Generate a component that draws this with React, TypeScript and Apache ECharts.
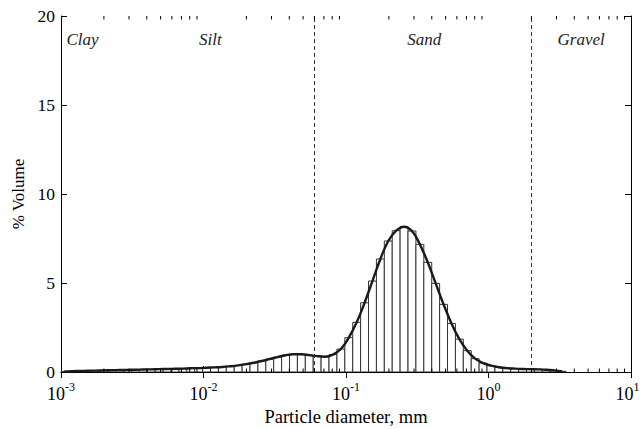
import React, { useEffect, useRef } from "react";
import * as echarts from "echarts";

// Particle-size classes (Mastersizer-style log classes, 0.01 µm – 3500 µm, 100 classes)
const CLASS_LOW_MM = 1e-5;
const CLASS_HIGH_MM = 3.5;
const CLASS_COUNT = 100;
const FIRST_VISIBLE_CLASS = 36;

// % volume in each visible class (from ~0.001 mm to 3.5 mm)
const VOLUME = [
  0.03, 0.05, 0.06, 0.07, 0.08, 0.09, 0.1, 0.11, 0.12, 0.13,
  0.14, 0.15, 0.16, 0.17, 0.18, 0.19, 0.21, 0.22, 0.24, 0.26,
  0.28, 0.32, 0.37, 0.44, 0.52, 0.62, 0.73, 0.84, 0.94, 1.0,
  1.0, 0.95, 0.89, 0.86, 0.98, 1.29, 1.93, 2.79, 3.89, 5.11,
  6.35, 7.36, 7.94, 8.16, 7.92, 7.17, 6.16, 4.98, 3.8, 2.73,
  1.85, 1.2, 0.75, 0.5, 0.36, 0.27, 0.22, 0.19, 0.17, 0.16,
  0.15, 0.13, 0.09, 0.04,
];

const SOIL_CLASSES = ["Clay", "Silt", "Sand", "Gravel"];
const SOIL_BOUNDS_MM = [0.001, 0.002, 0.0625, 2, 10];

const X_MIN = 0.001;
const X_MAX = 10;
const Y_MIN = 0;
const Y_MAX = 20;
const Y_INTERVAL = 5;
const MINOR_MULTIPLIERS = [2, 3, 4, 5, 6, 7, 8, 9];
const DECADES = [0.001, 0.01, 0.1, 1];

const FONT = "'Liberation Serif', 'Times New Roman', 'DejaVu Serif', serif";

export default function App() {
  const ref = useRef<HTMLDivElement>(null);

  useEffect(() => {
    if (!ref.current) return;
    const chart = echarts.init(ref.current, undefined, { renderer: "svg" });

    const ratio = Math.pow(CLASS_HIGH_MM / CLASS_LOW_MM, 1 / CLASS_COUNT);
    const edges = Array.from({ length: VOLUME.length + 1 }, (_, i) =>
      CLASS_LOW_MM * Math.pow(ratio, FIRST_VISIBLE_CLASS + i)
    );
    const barData = VOLUME.map((v, i) => [edges[i], edges[i + 1], v]);
    const lineData = VOLUME.map((v, i) => [Math.sqrt(edges[i] * edges[i + 1]), v]);
    const minorTicks: number[][] = [];
    DECADES.forEach((d) => MINOR_MULTIPLIERS.forEach((m) => minorTicks.push([d * m, 0])));

    const logLabel = (v: number) => {
      const e = Math.round(Math.log10(v));
      return v >= X_MAX ? `{b|10}{se|${e}}` : `{b|10}{s|${e}}`;
    };

    const xCommon = {
      type: "log" as const,
      logBase: 10,
      min: X_MIN,
      max: X_MAX,
      splitLine: { show: false },
      axisLine: { lineStyle: { color: "#000", width: 1 } },
      axisTick: { inside: true, length: 6, lineStyle: { color: "#000" } },
    };
    const yCommon = {
      type: "value" as const,
      min: Y_MIN,
      max: Y_MAX,
      interval: Y_INTERVAL,
      splitLine: { show: false },
      axisLine: { show: true, lineStyle: { color: "#000", width: 1 } },
      axisTick: { show: true, inside: true, length: 6, lineStyle: { color: "#000" } },
    };

    chart.setOption({
      animation: false,
      backgroundColor: "#fff",
      textStyle: { fontFamily: FONT },
      grid: { left: 61, right: 10, top: 16, bottom: 57, outerBoundsMode: "none" },
      xAxis: [
        {
          ...xCommon,
          position: "bottom",
          name: "Particle diameter, mm",
          nameLocation: "middle",
          nameGap: 32,
          nameTextStyle: { fontFamily: FONT, fontSize: 18.5, color: "#000" },
          axisLabel: {
            margin: 9,
            fontFamily: FONT,
            formatter: logLabel,
            rich: {
              b: { fontFamily: FONT, fontSize: 18, color: "#000", lineHeight: 22, verticalAlign: "bottom" },
              s: { fontFamily: FONT, fontSize: 12, color: "#000", lineHeight: 12, verticalAlign: "top" },
              se: { fontFamily: FONT, fontSize: 12, color: "#000", lineHeight: 12, verticalAlign: "top", padding: [0, 7, 0, 0] },
            },
          },
        },
        { ...xCommon, position: "top", axisLabel: { show: false } },
      ],
      yAxis: [
        {
          ...yCommon,
          position: "left",
          name: "% Volume",
          nameLocation: "middle",
          nameGap: 33,
          nameTextStyle: { fontFamily: FONT, fontSize: 17, color: "#000" },
          axisLabel: { fontFamily: FONT, fontSize: 17.5, color: "#000", margin: 6 },
        },
        { ...yCommon, position: "right", axisLabel: { show: false } },
      ],
      series: [
        {
          type: "custom",
          name: "bins",
          clip: true,
          silent: true,
          encode: { x: [0, 1], y: 2 },
          data: barData,
          renderItem: (_params: any, api: any) => {
            const p0 = api.coord([api.value(0), 0]);
            const p1 = api.coord([api.value(1), api.value(2)]);
            return {
              type: "rect",
              shape: { x: p0[0], y: p1[1], width: p1[0] - p0[0], height: p0[1] - p1[1] },
              style: { fill: "#fff", stroke: "#333", lineWidth: 1 },
            };
          },
          z: 2,
        },
        {
          type: "line",
          name: "curve",
          data: lineData,
          smooth: 0.4,
          showSymbol: false,
          silent: true,
          lineStyle: { color: "#1a1a1a", width: 2.4 },
          z: 4,
          markLine: {
            silent: true,
            symbol: ["none", "none"],
            label: { show: false },
            lineStyle: { color: "#333", width: 1, type: [4, 3] },
            data: SOIL_BOUNDS_MM.slice(1, -1).map((b) => ({ xAxis: b })),
          },
          markArea: {
            silent: true,
            itemStyle: { color: "rgba(0,0,0,0)" },
            label: {
              position: "insideTop",
              distance: 15,
              fontFamily: FONT,
              fontStyle: "italic",
              fontSize: 17,
              color: "#222",
            },
            data: SOIL_CLASSES.map((n, i) => [
              { name: n, xAxis: SOIL_BOUNDS_MM[i] },
              { xAxis: SOIL_BOUNDS_MM[i + 1] },
            ]),
          },
        },
        {
          type: "custom",
          name: "minorTicks",
          silent: true,
          encode: { x: 0, y: 1 },
          data: minorTicks,
          renderItem: (_params: any, api: any) => {
            const b = api.coord([api.value(0), Y_MIN]);
            const t = api.coord([api.value(0), Y_MAX]);
            return {
              type: "group",
              children: [
                { type: "line", shape: { x1: b[0], y1: b[1], x2: b[0], y2: b[1] - 3.5 }, style: { stroke: "#000", lineWidth: 1 } },
                { type: "line", shape: { x1: t[0], y1: t[1], x2: t[0], y2: t[1] + 3.5 }, style: { stroke: "#000", lineWidth: 1 } },
              ],
            };
          },
          z: 5,
        },
      ],
    });
    return () => chart.dispose();
  }, []);

  return <div ref={ref} style={{ position: "fixed", left: 0, top: 0, width: 641, height: 429 }} />;
}
